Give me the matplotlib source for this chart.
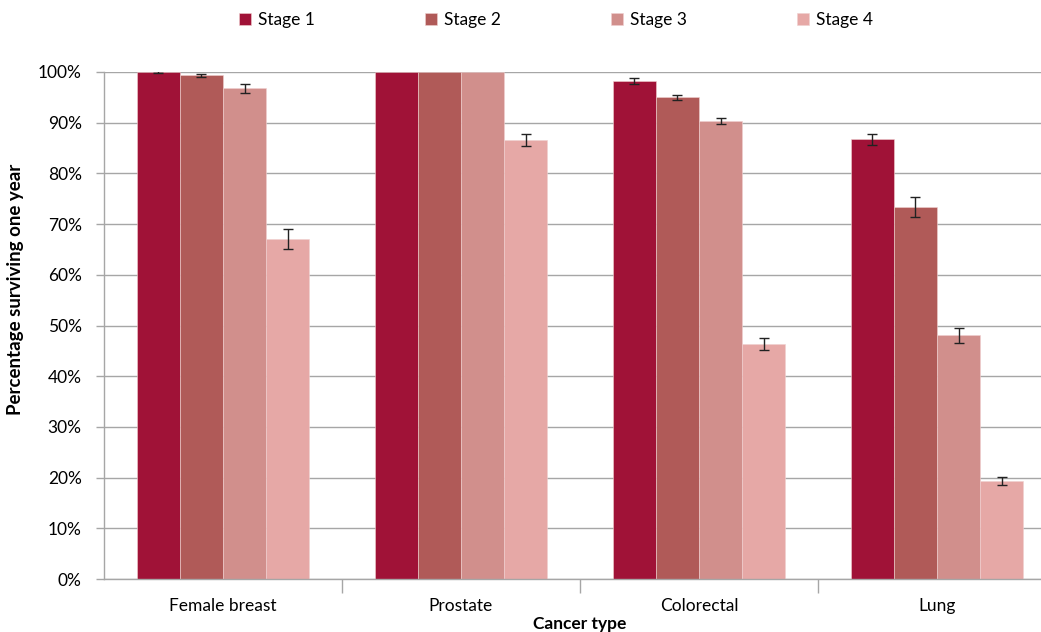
import numpy as np
import matplotlib
matplotlib.use("Agg")
import matplotlib.pyplot as plt
from matplotlib.ticker import PercentFormatter, FixedLocator

plt.rcParams["font.family"] = ["Lato", "DejaVu Sans"]

# ------ data ------
CANCERS = ["Female breast", "Prostate", "Colorectal", "Lung"]
STAGES = ["Stage 1", "Stage 2", "Stage 3", "Stage 4"]
STAGE1 = [100.0, 100.0, 98.2, 86.7]
STAGE2 = [99.4, 100.0, 95.0, 73.4]
STAGE3 = [96.8, 100.0, 90.3, 48.1]
STAGE4 = [67.1, 86.6, 46.4, 19.3]
ERR1 = [0.1, 0.0, 0.6, 1.1]
ERR2 = [0.3, 0.0, 0.55, 2.0]
ERR3 = [0.9, 0.0, 0.6, 1.5]
ERR4 = [2.0, 1.1, 1.15, 0.8]

COLORS = ["#A01237", "#B05A58", "#D18F8C", "#E6A8A6"]

fig = plt.figure(figsize=(10.41, 6.32), dpi=100)
ax = fig.add_axes([104 / 1041, 53 / 632, 952 / 1041, 507 / 632])

x = np.arange(len(CANCERS))
w = 0.1807
series = [STAGE1, STAGE2, STAGE3, STAGE4]
errs = [ERR1, ERR2, ERR3, ERR4]
for i, (vals, err, col, lab) in enumerate(zip(series, errs, COLORS, STAGES)):
    pos = x + (i - 1.5) * w
    ax.bar(pos, vals, width=w, color=col, label=lab, zorder=2,
           edgecolor="#F0D0D0", linewidth=0.4)
    e = np.array(err)
    m = e > 0
    ax.errorbar(pos[m], np.array(vals)[m], yerr=e[m], fmt="none",
                ecolor="#222222", elinewidth=1, capsize=3.5, capthick=1, zorder=3)

ax.set_xlim(-0.5, len(CANCERS) - 0.5)
ax.set_ylim(0, 100)
ax.set_yticks(np.arange(0, 101, 10))
ax.yaxis.set_major_formatter(PercentFormatter(decimals=0))
ax.grid(axis="y", color="#A6A6A6", lw=1, zorder=0)
ax.set_axisbelow(True)

ax.set_xticks(x)
ax.set_xticklabels(CANCERS)
ax.xaxis.set_minor_locator(FixedLocator(np.arange(0.5, len(CANCERS) - 0.5, 1.0)))
ax.tick_params(axis="x", which="major", length=0, pad=14, labelsize=12.5)
ax.tick_params(axis="x", which="minor", length=10, color="#A6A6A6", width=1)
ax.tick_params(axis="y", length=6, color="#A6A6A6", width=1, pad=10, labelsize=12.5)

for s in ("top", "right"):
    ax.spines[s].set_visible(False)
for s in ("left", "bottom"):
    ax.spines[s].set_color("#A6A6A6")
    ax.spines[s].set_linewidth(1)

ax.set_xlabel("Cancer type", fontsize=12.5, fontweight="bold", labelpad=1)
ax.set_ylabel("Percentage surviving one year", fontsize=13.5, fontweight="bold")
ax.yaxis.set_label_coords(-80 / 952, (579 - 289) / 507)

fig.legend(loc="center", bbox_to_anchor=(556 / 1041, 1 - 20 / 632), ncol=4,
           frameon=False, handlelength=0.7, handleheight=0.7, handletextpad=0.4,
           columnspacing=6.35, fontsize=12.5)

fig.savefig("out.png", dpi=100)
